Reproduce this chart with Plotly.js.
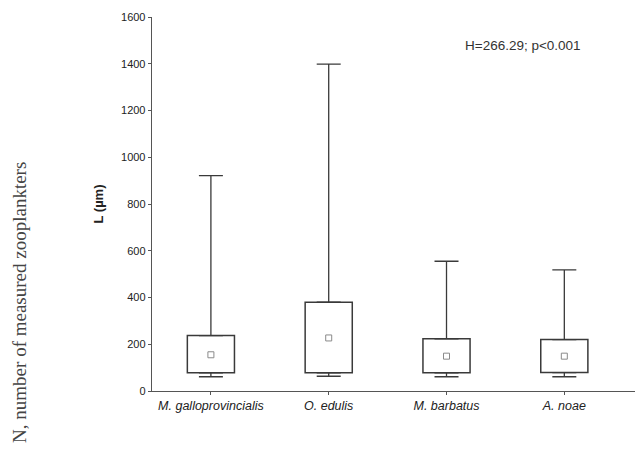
<!DOCTYPE html>
<html>
<head>
<meta charset="utf-8">
<script src="https://cdn.plot.ly/plotly-3.0.1.min.js"></script>
<style>html,body{margin:0;padding:0;background:#fff;}#chart{width:637px;height:451px;}</style>
</head>
<body>
<div id="chart"></div>
<script>
const categories = ["M. galloprovincialis", "O. edulis", "M. barbatus", "A. noae"];
const minVals = [61, 63, 61, 61];
const q1Vals = [78, 78, 78, 79];
const medianVals = [155, 227, 149, 149];
const q3Vals = [237, 380, 223, 220];
const maxVals = [921, 1398, 555, 518];
const statText = "H=266.29; p<0.001";
const yTitle = "L (µm)";
const sideText = "N, number of measured zooplankters";

const lineCol = "#3a3a3a";
const idx = categories.map((c, i) => i);

const traces = [
  {
    type: "scatter", mode: "markers", x: idx, y: q3Vals,
    marker: {size: 1, color: "rgba(0,0,0,0)"},
    error_y: {type: "data", symmetric: false,
      array: maxVals.map((v, i) => v - q3Vals[i]),
      arrayminus: q3Vals.map(() => 0),
      color: lineCol, thickness: 1.3, width: 12},
    hoverinfo: "skip", showlegend: false
  },
  {
    type: "scatter", mode: "markers", x: idx, y: q1Vals,
    marker: {size: 1, color: "rgba(0,0,0,0)"},
    error_y: {type: "data", symmetric: false,
      array: q1Vals.map(() => 0),
      arrayminus: minVals.map((v, i) => q1Vals[i] - v),
      color: lineCol, thickness: 1.3, width: 12},
    hoverinfo: "skip", showlegend: false
  },
  {
    type: "bar", x: idx, base: q1Vals,
    y: q3Vals.map((v, i) => v - q1Vals[i]),
    width: 0.4,
    marker: {color: "#ffffff", line: {color: lineCol, width: 1.5}},
    showlegend: false
  },
  {
    type: "scatter", mode: "markers", x: idx, y: medianVals,
    marker: {symbol: "square-open", size: 6, color: "#8a8a8a", line: {width: 1}},
    showlegend: false
  }
];

const layout = {
  width: 637, height: 451,
  margin: {l: 152, r: 2, t: 17, b: 60, pad: 0},
  paper_bgcolor: "#fff", plot_bgcolor: "#fff",
  font: {family: "Arial, Liberation Sans, sans-serif", color: "#333", size: 11},
  bargap: 0,
  xaxis: {
    range: [-0.5, 3.6],
    tickvals: idx, ticktext: categories.map(c => "<i>" + c + "</i>"),
    showline: true, linecolor: "#555", linewidth: 1.3,
    ticks: "outside", ticklen: 3, tickcolor: "#555",
    showgrid: false, zeroline: false,
    tickfont: {size: 12.5, color: "#222"}
  },
  yaxis: {
    range: [0, 1600], dtick: 200,
    showline: true, linecolor: "#555", linewidth: 1.3,
    ticks: "outside", ticklen: 3, tickcolor: "#555",
    showgrid: false, zeroline: false,
    tickfont: {size: 11, color: "#222"},
    title: {text: "<b>" + yTitle + "</b>", font: {size: 13, color: "#222"}, standoff: 14}
  },
  annotations: [
    {text: statText, xref: "paper", yref: "paper", x: 0.768, y: 0.925,
     xanchor: "center", yanchor: "middle",
     showarrow: false, font: {size: 13.5, color: "#333"}},
    {text: sideText, xref: "paper", yref: "paper", x: -0.273, y: 0.236,
     xanchor: "center", yanchor: "middle", textangle: -90, showarrow: false,
     font: {family: "Liberation Serif, Times New Roman, serif", size: 19, color: "#444"}}
  ]
};

Plotly.newPlot("chart", traces, layout, {displayModeBar: false, staticPlot: true});
</script>
</body>
</html>
